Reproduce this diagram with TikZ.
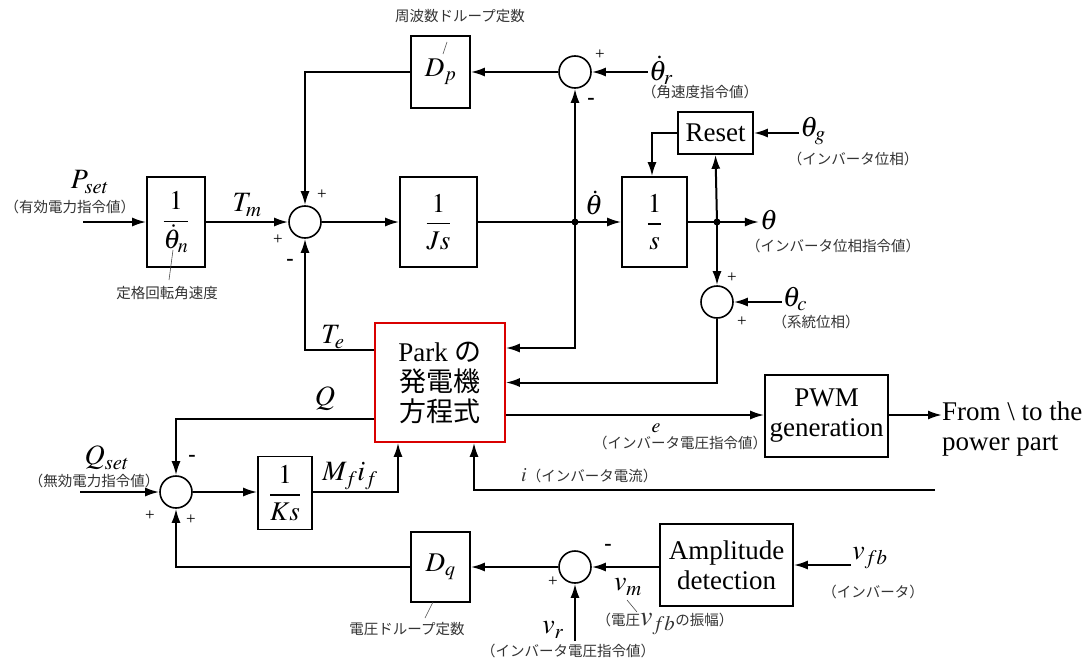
\documentclass[tikz,border=0pt]{standalone}
\usepackage{amsmath}
\usepackage{mathptmx}
\usepackage{fontspec}
\setmainfont{Liberation Serif}
\newfontfamily\jp{Noto Sans CJK JP}
\usetikzlibrary{arrows.meta, positioning}

\begin{document}
\begin{tikzpicture}[x=1pt,y=-1pt,>={Latex[length=14pt,width=9pt]},
  every node/.style={font=\fontsize{27}{30}\selectfont},
  blk/.style={draw,line width=1.6pt,inner sep=0pt,align=center},
  sumc/.style={draw,circle,line width=1.6pt,minimum size=32pt,inner sep=0pt},
  lbl/.style={font=\fontsize{28}{28}\selectfont,inner sep=1pt},
  note/.style={font=\jp\fontsize{14.5}{14.5}\selectfont,text=black!80,inner sep=1pt},
  sgn/.style={font=\fontsize{17}{17}\selectfont,inner sep=0pt},
  neg/.style={font=\bfseries\fontsize{22}{22}\selectfont,inner sep=0pt},
  sig/.style={line width=2pt}]
 \useasboundingbox (0,0) rectangle (1091,661);
 % blocks
 \node[blk,minimum width=59pt,minimum height=72pt] (dp) at (440.5,72) {$D_p$};
 \node[sumc] (sw) at (575,72) {};
 \node[blk,minimum width=58pt,minimum height=90pt] (kn) at (176,222) {$\dfrac{1}{\dot\theta_n}$};
 \node[sumc] (sm) at (305,222) {};
 \node[blk,minimum width=77pt,minimum height=90pt] (js) at (438.5,222) {$\dfrac{1}{Js}$};
 \coordinate (d1) at (575,222);
 \node[blk,minimum width=65pt,minimum height=90pt] (ig) at (654.5,222) {$\dfrac{1}{s}$};
 \node[blk,minimum width=75pt,minimum height=42pt] (rst) at (715.5,133) {Reset};
 \coordinate (d2) at (717,222);
 \node[sumc] (sc) at (717,302) {};
 \node[blk,draw=red!85!black,minimum width=130pt,minimum height=119pt] (park) at (440,382.5)
   {Park {\jp の}\\{\jp 発電機}\\{\jp 方程式}};
 \node[blk,minimum width=123pt,minimum height=82pt] (pwm) at (826.5,416) {PWM\\generation};
 \node[anchor=west,align=left,inner sep=0pt] (pow) at (942,429) {From \textbackslash\ to the\\power part};
 \node[sumc] (sq) at (176,492) {};
 \node[blk,minimum width=54pt,minimum height=73pt] (ks) at (285,493) {$\dfrac{1}{Ks}$};
 \node[blk,minimum width=59pt,minimum height=70pt] (dq) at (440.5,567) {$D_q$};
 \node[sumc] (sv) at (575,567) {};
 \node[blk,minimum width=133pt,minimum height=82pt] (amp) at (726.5,565) {Amplitude\\detection};
 % signal labels
 \node[lbl] (thr) at (661,70) {$\dot\theta_r$};
 \node[note,anchor=north west] (thrn) at (641,84) {（角速度指令値）};
 \node[lbl] (pset) at (90,182) {$P_{set}$};
 \node[note] (psetn) at (70,207) {（有効電力指令値）};
 \coordinate (pin) at (83,222);
 \node[lbl] (tm) at (247,205) {$T_m$};
 \node[lbl] (te) at (333,337) {$T_e$};
 \node[lbl] (q) at (325,399) {$Q$};
 \node[lbl] (qset) at (107,458) {$Q_{set}$};
 \node[note] (qsetn) at (94,481) {（無効電力指令値）};
 \coordinate (qin) at (80,492);
 \node[lbl] (mf) at (350,476) {$M_{f}i_{f}$};
 \node[lbl] (thd) at (594,203) {$\dot\theta$};
 \node[lbl] (thg) at (813,131) {$\theta_g$};
 \node[note] (thgn) at (853,159) {（インバータ位相）};
 \node[lbl] (th) at (769,220) {$\theta$};
 \node[note] (thn) at (833,246) {（インバータ位相指令値）};
 \node[lbl] (thc) at (795,299) {$\theta_c$};
 \node[note] (thcn) at (816,322) {（系統位相）};
 \node[font=\fontsize{20}{20}\selectfont,inner sep=0pt] (e) at (656,428) {$e$};
 \node[note] (en) at (680,443) {（インバータ電圧指令値）};
 \node[note,anchor=west] (il) at (520,476) {{\fontsize{20}{20}\selectfont$i$}（インバータ電流）};
 \coordinate (iend) at (935,490);
 \node[lbl] (vfb) at (870,558) {$v_{fb}$};
 \node[note] (vfbn) at (873,592) {（インバータ）};
 \node[lbl] (vm) at (628,587) {$v_m$};
 \node[note] (vmn) at (665,624) {（電圧{\fontsize{28}{28}\selectfont$v_{fb}$}の振幅）};
 \node[lbl] (vr) at (553,630) {$v_r$};
 \node[note] (vrn) at (568,651) {（インバータ電圧指令値）};
 \coordinate (vrin) at (575,641);
 % constants
 \node[note] (dpn) at (460,16) {周波数ドループ定数};
 \node[note] (knn) at (167,293) {定格回転角速度};
 \node[note] (dqn) at (407,629) {電圧ドループ定数};
 \draw[line width=.6pt,black!70] (447,42) -- (443,54);
 \draw[line width=.6pt,black!70] (173,250) -- (169,280);
 \draw[line width=.6pt,black!70] (433,602) -- (425,618);
 \draw[line width=.6pt,black!70] (627,600) -- (637,612);
 % signs
 \node[sgn] at (600,55) {+};
 \node[neg] at (591,101) {-};
 \node[sgn] at (322,195) {+};
 \node[sgn] at (278,240) {+};
 \node[neg] at (290,262) {-};
 \node[sgn] at (732,278) {+};
 \node[sgn] at (742,322) {+};
 \node[neg] at (192,458) {-};
 \node[sgn] at (150,516) {+};
 \node[sgn] at (191,520) {+};
 \node[sgn] at (553,582) {+};
 \node[neg] at (608,547) {-};
 % connectors
 \draw[sig,->] (thr.west |- sw.east) -- (sw.east);
 \draw[sig,->] (sw) -- (dp);
 \draw[sig,->] (dp.west) -| (sm.north);
 \draw[sig,->] (pin) -- (kn.west);
 \draw[sig,->] (kn) -- (sm);
 \draw[sig,->] (sm) -- (js);
 \draw[sig] (js) -- (d1);
 \draw[sig,->] (d1) -- (ig);
 \draw[sig,->] (d1) -- (sw.south);
 \draw[sig,->] (d1) |- ([yshift=34.5pt]park.east);
 \draw[sig] (ig) -- (d2);
 \draw[sig,->] (d2) -- (th.west |- d2);
 \draw[sig,->] (d2) -- (rst.south);
 \draw[sig,->] (d2) -- (sc.north);
 \draw[sig,->] (rst.west) -| ([xshift=-2.5pt]ig.north);
 \draw[sig,->] (thg.west |- rst.east) -- (rst.east);
 \draw[sig,->] (thc.west |- sc.east) -- (sc.east);
 \draw[sig,->] (sc.south) |- (park.east);
 \draw[sig,->] ([yshift=-32.5pt]park.east) -- (pwm.west |- 0,415);
 \draw[sig,->] (pwm.east |- 0,415) -- (pow.west |- 0,415);
 \draw[sig,->] ([yshift=32.5pt]park.west) -| (sm.south);
 \draw[sig,->] ([yshift=-36.5pt]park.west) -| (sq.north);
 \draw[sig,->] (qin) -- (sq.west);
 \draw[sig,->] (sq.east) -- (ks.west |- sq.east);
 \draw[sig,->] (ks.east |- sq.east) -| ([xshift=-42pt]park.south);
 \draw[sig,->] (iend) -| ([xshift=34pt]park.south);
 \draw[sig,->] (vfb.west |- amp.east) -- (amp.east);
 \draw[sig,->] (amp.west |- sv.east) -- (sv.east);
 \draw[sig,->] (sv) -- (dq);
 \draw[sig,->] (dq.west) -| (sq.south);
 \draw[sig,->] (vrin) -- (sv.south);
 \fill (d1) circle (3.5pt);
 \fill (d2) circle (3.5pt);
\end{tikzpicture}
\end{document}
